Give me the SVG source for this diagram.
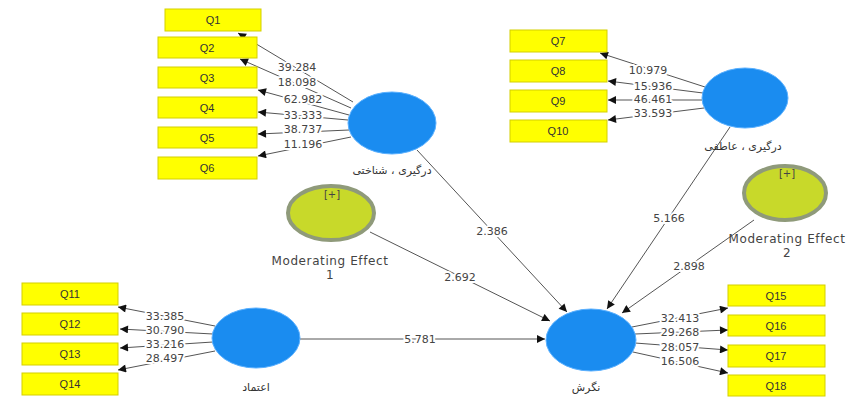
<svg xmlns="http://www.w3.org/2000/svg" width="850" height="397" viewBox="0 0 850 397">
<defs>
<marker id="ah" viewBox="0 0 10 10" refX="10" refY="5" markerWidth="9" markerHeight="8" markerUnits="userSpaceOnUse" orient="auto">
<path d="M0,0 L10,5 L0,10 z" fill="#111"/>
</marker>
<style>
.c{stroke:#555;stroke-width:1;fill:none;marker-end:url(#ah)}
.n{font-family:"DejaVu Sans",sans-serif;font-size:11px;fill:#444;text-anchor:middle;dominant-baseline:central;stroke:#fff;stroke-width:4px;paint-order:stroke;stroke-linejoin:round}
.q rect{fill:#ffff00;stroke:#d4cf00;stroke-width:1}
.q text{font-family:"Liberation Sans",sans-serif;font-size:11px;fill:#333;text-anchor:middle;dominant-baseline:central}
.lv ellipse{fill:#1a8cf0;stroke:#5ab0ff;stroke-width:1}
.lvl{font-family:"DejaVu Sans",sans-serif;font-size:11px;fill:#333;text-anchor:middle;letter-spacing:1px}
.me ellipse{fill:#c8d92a;stroke:#8f9a7a;stroke-width:4}
.me text{font-family:"DejaVu Sans",sans-serif;fill:#444;text-anchor:middle}
.mel{font-size:12px;letter-spacing:0.6px}
</style>
</defs>
<rect width="850" height="397" fill="#fff"/>
<g id="connectors">
<line class="c" x1="353" y1="102" x2="238" y2="33"/>
<line class="c" x1="351" y1="108" x2="240" y2="59"/>
<line class="c" x1="349" y1="115" x2="258" y2="90"/>
<line class="c" x1="348" y1="120" x2="258" y2="112"/>
<line class="c" x1="349" y1="130" x2="258" y2="134"/>
<line class="c" x1="351" y1="137" x2="258" y2="156"/>
<line class="c" x1="705" y1="87" x2="600" y2="53"/>
<line class="c" x1="703" y1="93" x2="608" y2="81"/>
<line class="c" x1="702" y1="100" x2="608" y2="100"/>
<line class="c" x1="704" y1="108" x2="608" y2="120"/>
<line class="c" x1="215" y1="326" x2="118" y2="307"/>
<line class="c" x1="213" y1="334" x2="120" y2="329"/>
<line class="c" x1="213" y1="342" x2="120" y2="348"/>
<line class="c" x1="215" y1="351" x2="118" y2="370"/>
<line class="c" x1="632" y1="327" x2="728" y2="308"/>
<line class="c" x1="635" y1="334" x2="728" y2="330"/>
<line class="c" x1="635" y1="343" x2="728" y2="350"/>
<line class="c" x1="633" y1="352" x2="728" y2="373"/>
<line class="c" x1="417" y1="150" x2="567" y2="312"/>
<line class="c" x1="370" y1="232" x2="550" y2="321"/>
<line class="c" x1="300" y1="339" x2="545" y2="339"/>
<line class="c" x1="730" y1="127" x2="607" y2="309"/>
<line class="c" x1="754" y1="220" x2="622" y2="313"/>
<text class="n" x="297" y="67">39.284</text>
<text class="n" x="297" y="82">18.098</text>
<text class="n" x="303" y="99">62.982</text>
<text class="n" x="303" y="115">33.333</text>
<text class="n" x="303" y="129">38.737</text>
<text class="n" x="303" y="144">11.196</text>
<text class="n" x="648" y="70">10.979</text>
<text class="n" x="653" y="86">15.936</text>
<text class="n" x="653" y="99">46.461</text>
<text class="n" x="653" y="113">33.593</text>
<text class="n" x="165" y="316">33.385</text>
<text class="n" x="165" y="330">30.790</text>
<text class="n" x="165" y="344">33.216</text>
<text class="n" x="165" y="358">28.497</text>
<text class="n" x="680" y="318">32.413</text>
<text class="n" x="680" y="332">29.268</text>
<text class="n" x="680" y="347">28.057</text>
<text class="n" x="680" y="361">16.506</text>
<text class="n" x="492" y="231">2.386</text>
<text class="n" x="460" y="277">2.692</text>
<text class="n" x="420" y="339">5.781</text>
<text class="n" x="669" y="218">5.166</text>
<text class="n" x="689" y="266">2.898</text>
</g>
<g id="Q1" class="q"><rect x="165" y="9" width="96" height="22"/><text x="213" y="20">Q1</text></g>
<g id="Q2" class="q"><rect x="158" y="37" width="99" height="21"/><text x="207" y="47.5">Q2</text></g>
<g id="Q3" class="q"><rect x="158" y="67" width="99" height="21"/><text x="207" y="77.5">Q3</text></g>
<g id="Q4" class="q"><rect x="158" y="97" width="99" height="21"/><text x="207" y="107.5">Q4</text></g>
<g id="Q5" class="q"><rect x="158" y="127" width="99" height="21"/><text x="207" y="137.5">Q5</text></g>
<g id="Q6" class="q"><rect x="158" y="157" width="99" height="22"/><text x="207" y="168">Q6</text></g>
<g id="Q7" class="q"><rect x="510" y="30" width="97" height="22"/><text x="558" y="41">Q7</text></g>
<g id="Q8" class="q"><rect x="510" y="60" width="97" height="22"/><text x="558" y="71">Q8</text></g>
<g id="Q9" class="q"><rect x="510" y="90" width="97" height="22"/><text x="558" y="101">Q9</text></g>
<g id="Q10" class="q"><rect x="510" y="120" width="97" height="22"/><text x="558" y="131">Q10</text></g>
<g id="Q11" class="q"><rect x="22" y="283" width="96" height="22"/><text x="70" y="294">Q11</text></g>
<g id="Q12" class="q"><rect x="22" y="313" width="96" height="22"/><text x="70" y="324">Q12</text></g>
<g id="Q13" class="q"><rect x="22" y="343" width="96" height="22"/><text x="70" y="354">Q13</text></g>
<g id="Q14" class="q"><rect x="22" y="373" width="96" height="22"/><text x="70" y="384">Q14</text></g>
<g id="Q15" class="q"><rect x="728" y="285" width="97" height="21"/><text x="776" y="295.5">Q15</text></g>
<g id="Q16" class="q"><rect x="728" y="315" width="97" height="21"/><text x="776" y="325.5">Q16</text></g>
<g id="Q17" class="q"><rect x="728" y="345" width="97" height="22"/><text x="776" y="356">Q17</text></g>
<g id="Q18" class="q"><rect x="728" y="375" width="97" height="21"/><text x="776" y="385.5">Q18</text></g>
<g id="cognitive" class="lv"><ellipse cx="392" cy="123" rx="44" ry="31"/><text class="lvl" x="392" y="174" direction="rtl">درگیری ، شناختی</text></g>
<g id="affective" class="lv"><ellipse cx="745" cy="98" rx="43" ry="30"/><text class="lvl" x="743" y="150" direction="rtl">درگیری ، عاطفی</text></g>
<g id="trust" class="lv"><ellipse cx="256" cy="338" rx="44" ry="30"/><text class="lvl" x="256" y="391" direction="rtl">اعتماد</text></g>
<g id="attitude" class="lv"><ellipse cx="591" cy="340" rx="45" ry="31"/><text class="lvl" x="586" y="391" direction="rtl">نگرش</text></g>
<g id="me1" class="me"><ellipse cx="331" cy="213" rx="43" ry="27"/><text x="332" y="198" font-size="10">[+]</text><text class="mel" x="330" y="265">Moderating Effect</text><text class="mel" x="330" y="279">1</text></g>
<g id="me2" class="me"><ellipse cx="785" cy="193" rx="41" ry="27"/><text x="787" y="177" font-size="10">[+]</text><text class="mel" x="787" y="243">Moderating Effect</text><text class="mel" x="787" y="257">2</text></g>
</svg>
